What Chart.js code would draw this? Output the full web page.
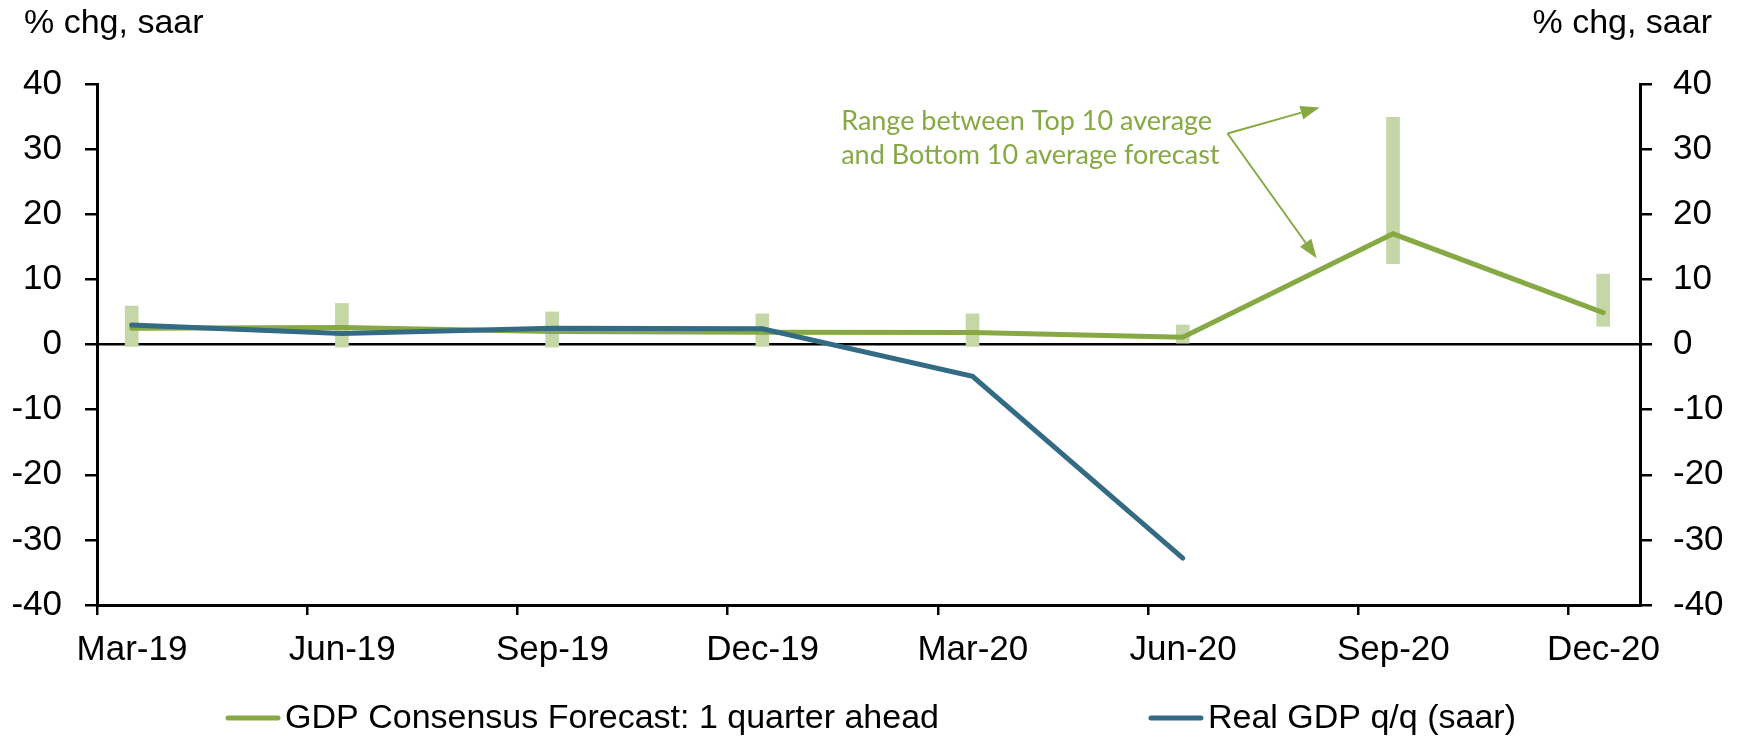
<!DOCTYPE html>
<html>
  <head>
    <meta http-equiv="content-type" content="text/html; charset=utf-8" />
    <title>GDP consensus forecast vs real GDP</title>
    <style>
      html, body { margin: 0; padding: 0; background: #fff; }
      #chart { display: block; }
    </style>
  </head>
  <body>
    <canvas id="chart" width="1742" height="738"></canvas>
    <script src="https://cdn.jsdelivr.net/npm/chart.js@4/dist/chart.umd.min.js"></script>
    <script>
      // quarters on the date axis, values in % chg saar
      const quarters = ["Mar-19", "Jun-19", "Sep-19", "Dec-19", "Mar-20", "Jun-20", "Sep-20", "Dec-20"];
      const consensus = [2.5, 2.6, 2.0, 1.9, 1.85, 1.1, 17.0, 4.9];
      const realGdp = [3.0, 1.7, 2.5, 2.4, -4.9, -32.8];
      const rangeLow = [-0.3, -0.4, -0.4, -0.3, -0.3, 0.2, 12.4, 2.8];
      const rangeHigh = [5.9, 6.3, 5.0, 4.7, 4.7, 3.0, 34.9, 10.8];
      const yTicks = [-40, -30, -20, -10, 0, 10, 20, 30, 40];
      const unitLabel = "% chg, saar";
      const noteLines = ["Range between Top 10 average", "and Bottom 10 average forecast"];

      const GREEN = "#86a943";
      const BLUE = "#346b84";
      const LIGHT = "#c5d7a6";
      const FONT = "'Liberation Sans', Arial, sans-serif";

      // data sits mid-month, ticks at the start of each quarter month
      const midMonth = 0.165;
      const pts = (arr) => arr.map((v, i) => ({ x: i + midMonth, y: v }));

      const extras = {
        id: "extras",
        afterDraw(chart) {
          const ctx = chart.ctx;
          const x = chart.scales.x, y = chart.scales.y;
          ctx.save();

          // unit labels above both axes
          ctx.fillStyle = "#000";
          ctx.font = "34px " + FONT;
          ctx.textBaseline = "alphabetic";
          ctx.textAlign = "left";
          ctx.fillText(unitLabel, 24, 33);
          ctx.textAlign = "right";
          ctx.fillText(unitLabel, 1712, 33);

          // annotation text + arrows
          ctx.fillStyle = GREEN;
          ctx.font = "27px Lato, 'Open Sans', sans-serif";
          ctx.textAlign = "left";
          const tx = x.getPixelForValue(3.54);
          ctx.fillText(noteLines[0], tx, y.getPixelForValue(33.0));
          ctx.fillText(noteLines[1], tx, y.getPixelForValue(27.7));

          const jx = x.getPixelForValue(5.378), jy = y.getPixelForValue(32.4);
          const tips = [[5.816, 36.4], [5.802, 13.25]];
          ctx.strokeStyle = GREEN;
          ctx.lineWidth = 2;
          tips.forEach(([vx, vy]) => {
            const ex = x.getPixelForValue(vx), ey = y.getPixelForValue(vy);
            const a = Math.atan2(ey - jy, ex - jx);
            const hl = 19, hw = 7;
            const bx = ex - hl * Math.cos(a), by = ey - hl * Math.sin(a);
            ctx.beginPath();
            ctx.moveTo(jx, jy);
            ctx.lineTo(bx, by);
            ctx.stroke();
            ctx.beginPath();
            ctx.moveTo(ex, ey);
            ctx.lineTo(bx + hw * Math.sin(a), by - hw * Math.cos(a));
            ctx.lineTo(bx - hw * Math.sin(a), by + hw * Math.cos(a));
            ctx.closePath();
            ctx.fill();
          });

          // legend, two items with a wide gap, centred under the chart
          const items = [chart.data.datasets[1], chart.data.datasets[0]];
          ctx.font = "34px " + FONT;
          ctx.textBaseline = "middle";
          const lineLen = 54, gapText = 5, gapItems = 210;
          const widths = items.map((d) => lineLen + gapText + ctx.measureText(d.label).width);
          let cx = (chart.width - (widths[0] + widths[1] + gapItems)) / 2;
          const ly = 718;
          items.forEach((d, i) => {
            ctx.strokeStyle = d.borderColor;
            ctx.lineWidth = 5;
            ctx.lineCap = "round";
            ctx.beginPath();
            ctx.moveTo(cx + 2, ly);
            ctx.lineTo(cx + lineLen - 2, ly);
            ctx.stroke();
            ctx.fillStyle = "#000";
            ctx.fillText(d.label, cx + lineLen + gapText, ly + 1);
            cx += widths[i] + gapItems;
          });
          ctx.restore();
        },
      };

      const yAxis = (pos, grid) => ({
        position: pos,
        min: -40,
        max: 40,
        afterBuildTicks: (s) => { s.ticks = yTicks.map((v) => ({ value: v })); },
        afterFit: (s) => { s.width = pos === "left" ? 97 : 102; },
        ticks: { color: "#000", font: { family: FONT, size: 35 }, padding: pos === "left" ? 23 : 21 },
        grid: {
          drawOnChartArea: grid,
          drawTicks: true,
          tickLength: 12,
          lineWidth: 2.5,
          tickColor: "#000",
          color: (c) => (c.tick && c.tick.value === 0 ? "#000" : "rgba(0,0,0,0)"),
        },
        border: { display: true, color: "#000", width: 3 },
      });

      new Chart("chart", {
        type: "line",
        data: {
          datasets: [
            {
              label: "Real GDP q/q (saar)",
              data: pts(realGdp),
              borderColor: BLUE,
              borderWidth: 5,
              borderCapStyle: "round",
              pointRadius: 0,
              order: 0,
            },
            {
              label: "GDP Consensus Forecast: 1 quarter ahead",
              data: pts(consensus),
              borderColor: GREEN,
              borderWidth: 5,
              borderCapStyle: "round",
              pointRadius: 0,
              order: 1,
            },
            {
              type: "bar",
              label: "Range",
              data: rangeLow.map((lo, i) => ({ x: i + midMonth, y: [lo, rangeHigh[i]] })),
              backgroundColor: LIGHT,
              barThickness: 13,
              order: 2,
            },
          ],
        },
        options: {
          responsive: false,
          animation: false,
          devicePixelRatio: 1,
          layout: { padding: { top: 84, left: 0, right: 0, bottom: 0 } },
          plugins: { legend: { display: false }, tooltip: { enabled: false } },
          scales: {
            x: {
              type: "linear",
              min: 0,
              max: 7.34,
              offset: false,
              afterBuildTicks: (s) => { s.ticks = quarters.map((q, i) => ({ value: i })); },
              afterFit: (s) => { s.height = 133; },
              ticks: {
                color: "#000",
                font: { family: FONT, size: 35 },
                padding: 14,
                labelOffset: 35,
                maxRotation: 0,
                callback: (v) => quarters[v],
              },
              grid: { offset: false, drawOnChartArea: false, drawTicks: true, tickLength: 10, lineWidth: 2.5, tickColor: "#000" },
              border: { display: true, color: "#000", width: 3 },
            },
            y: yAxis("left", true),
            y2: yAxis("right", false),
          },
        },
        plugins: [extras],
      });
    </script>
  </body>
</html>
